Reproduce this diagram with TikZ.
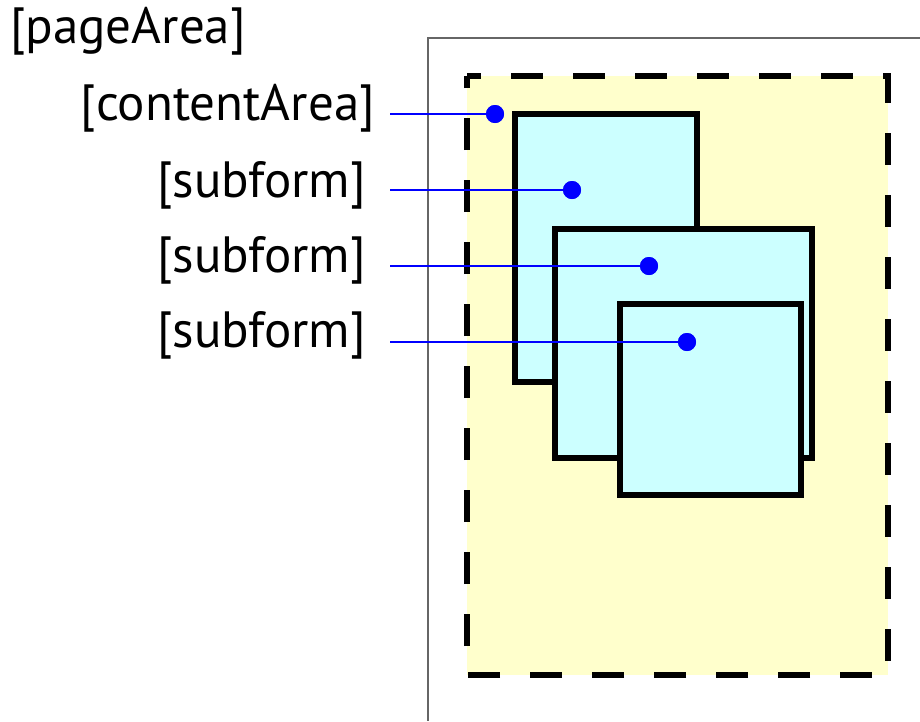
\documentclass[tikz,border=0pt]{standalone}
\usepackage{fontspec}
\setmainfont{PT Sans}
\definecolor{paleyellow}{RGB}{255,255,204}
\definecolor{palecyan}{RGB}{204,255,255}
\definecolor{dotblue}{RGB}{0,0,255}
\begin{document}
\begin{tikzpicture}[x=1pt,y=-1pt,
  pageline/.style={draw=black!60,line width=1.3pt},
  contentbox/.style={fill=paleyellow,draw=none},
  contentdash/.style={draw=black,line width=6.5pt,dash pattern=on 32pt off 30pt,dash phase=18pt},
  subbox/.style={draw=black,line width=5.5pt,fill=palecyan},
  leader/.style={draw=dotblue,line width=1.3pt},
  dot/.style={circle,fill=dotblue,inner sep=0pt,minimum size=18pt},
  lbl/.style={font=\fontsize{51}{51}\selectfont,inner sep=0pt,anchor=base east}]
\useasboundingbox (0,0) rectangle (920,721);
% page area
\draw[pageline] (920,38) -- (428,38) -- (428,721);
% content area
\fill[contentbox] (467,76) rectangle (888,675);
\draw[contentdash] (467,76) -- (888,76) -- (888,675) -- (467,675) -- cycle;
% subforms
\draw[subbox] (515,114) rectangle (697,382);
\draw[subbox] (555,229) rectangle (812,458);
\draw[subbox] (620,304) rectangle (801,495);
% labels
\node[lbl,anchor=base west] (pa) at (10,43) {[pageArea]};
\node[lbl] (ca) at (375,120) {[contentArea]};
\node[lbl] (sf1) at (366,197) {[subform]};
\node[lbl] (sf2) at (366,272) {[subform]};
\node[lbl] (sf3) at (366,347) {[subform]};
% dots
\node[dot] (d0) at (495,114) {};
\node[dot] (d1) at (572,190) {};
\node[dot] (d2) at (649,266) {};
\node[dot] (d3) at (687,342) {};
\coordinate (s0) at (390,114);
\coordinate (s1) at (390,190);
\coordinate (s2) at (390,266);
\coordinate (s3) at (390,342);
\draw[leader] (s0) -- (d0.center);
\draw[leader] (s1) -- (d1.center);
\draw[leader] (s2) -- (d2.center);
\draw[leader] (s3) -- (d3.center);
\node[dot] at (d0) {};
\node[dot] at (d1) {};
\node[dot] at (d2) {};
\node[dot] at (d3) {};
\end{tikzpicture}
\end{document}
